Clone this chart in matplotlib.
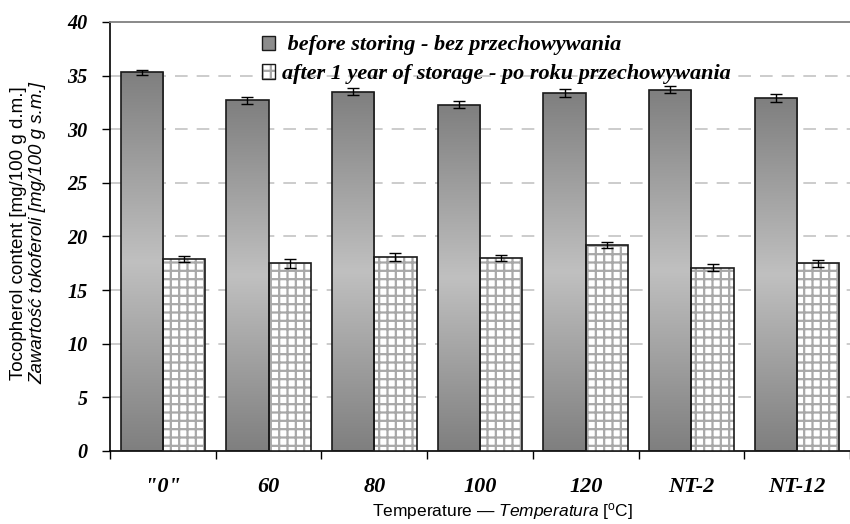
import matplotlib
matplotlib.use("Agg")
import matplotlib.pyplot as plt
import numpy as np
from matplotlib.colors import LinearSegmentedColormap
from matplotlib.patches import Rectangle
from matplotlib.legend_handler import HandlerTuple

categories = ['"0"', '60', '80', '100', '120', 'NT-2', 'NT-12']
before = [35.3, 32.7, 33.5, 32.3, 33.4, 33.7, 32.9]
before_err = [0.2, 0.35, 0.3, 0.35, 0.35, 0.3, 0.35]
after = [17.9, 17.5, 18.1, 18.0, 19.2, 17.1, 17.5]
after_err = [0.25, 0.4, 0.35, 0.3, 0.3, 0.3, 0.3]
yticks = [0, 5, 10, 15, 20, 25, 30, 35, 40]
legend_labels = [' before storing - bez przechowywania',
                 'after 1 year of storage - po roku przechowywania']

plt.rcParams['mathtext.fontset'] = 'custom'
plt.rcParams['mathtext.rm'] = 'Liberation Sans'
plt.rcParams['mathtext.it'] = 'Liberation Sans:italic'
plt.rcParams['hatch.linewidth'] = 1.6

HATCH_GREY = '#a8a8a8'
EDGE = '#1a1a1a'

fig = plt.figure(figsize=(8.5, 5.24), dpi=100)
ax = fig.add_axes([110/850, 73/524, 740/850, 429/524])

x = np.arange(len(categories))
w = 0.4
cmap = LinearSegmentedColormap.from_list('g', ['#7f7f7f', '#c0c0c0', '#7f7f7f'])
grad = np.linspace(0, 1, 256).reshape(-1, 1)

# dark gradient bars
bars1 = ax.bar(x - w/2, before, w, color='none', edgecolor=EDGE, linewidth=1.2, zorder=3)
for b in bars1:
    im = ax.imshow(grad, cmap=cmap, aspect='auto', zorder=2.5,
                   extent=(b.get_x(), b.get_x() + b.get_width(), 0, b.get_height()),
                   origin='lower')
    im.set_clip_path(b)

# hatched bars: grey hatch fill, then black outline
ax.bar(x + w/2, after, w, color='white', edgecolor=HATCH_GREY, linewidth=0,
       hatch='++', zorder=2.6)
ax.bar(x + w/2, after, w, color='none', edgecolor=EDGE, linewidth=1.2, zorder=3)

ax.errorbar(x - w/2, before, yerr=before_err, fmt='none', ecolor='black',
            elinewidth=1, capsize=4, capthick=1, zorder=5)
ax.errorbar(x + w/2, after, yerr=after_err, fmt='none', ecolor='black',
            elinewidth=1, capsize=4, capthick=1, zorder=5)

ax.set_xlim(-0.5, -0.5 + 740/106.5)
ax.set_ylim(0, 40)
ax.set_yticks(yticks)
ax.set_yticklabels([str(t) for t in yticks], fontfamily='Liberation Serif',
                   fontweight='bold', fontstyle='italic', fontsize=14.5)
for t in yticks[1:-1]:
    ax.axhline(t, color='#c8c8c8', linewidth=1.3, dashes=(7, 5), zorder=1)

ax.set_xticks(np.arange(len(categories) + 1) - 0.5)
ax.set_xticklabels([])
ax.set_xticks(x, minor=True)
ax.set_xticklabels(categories, minor=True, fontfamily='Liberation Serif',
                   fontweight='bold', fontstyle='italic', fontsize=16)
ax.tick_params(axis='x', which='major', direction='out', length=6, width=1)
ax.tick_params(axis='x', which='minor', length=0, pad=19)
ax.tick_params(axis='y', direction='out', length=6, width=1, pad=10)

ax.spines['right'].set_visible(False)
ax.spines['top'].set_color('#808080')
ax.spines['top'].set_linewidth(1.3)
ax.spines['left'].set_linewidth(1.2)
ax.spines['bottom'].set_linewidth(1.2)

h1 = Rectangle((0, 0), 1, 1, facecolor='#8c8c8c', edgecolor=EDGE, linewidth=1)
h2a = Rectangle((0, 0), 1, 1, facecolor='white', edgecolor=HATCH_GREY, linewidth=0, hatch='++')
h2b = Rectangle((0, 0), 1, 1, facecolor='none', edgecolor=EDGE, linewidth=1)
leg = ax.legend([h1, (h2a, h2b)], legend_labels, loc='upper left',
                bbox_to_anchor=(136/740, 1.005), frameon=False,
                handler_map={tuple: HandlerTuple(ndivide=1, pad=0)},
                prop={'family': 'Liberation Serif', 'weight': 'bold', 'style': 'italic', 'size': 16},
                handlelength=0.6, handleheight=0.6, handletextpad=0.3, labelspacing=0.4,
                borderaxespad=0.3)

fig.text(19/850, 1 - 233/524, 'Tocopherol content [mg/100 g d.m.]', rotation=90,
         ha='center', va='center', fontfamily='Liberation Sans', fontsize=13.5)
fig.text(38/850, 1 - 233/524, 'Zawartość tokoferoli [mg/100 g s.m.]', rotation=90,
         ha='center', va='center', fontfamily='Liberation Sans', fontstyle='italic', fontsize=13.5)
fig.text(503/850, 1 - 511/524, r'Temperature — $\mathit{Temperatura}$ [$^{\mathrm{o}}$C]',
         ha='center', va='center', fontfamily='Liberation Sans', fontsize=12.5)

fig.savefig('out.png', dpi=100)
